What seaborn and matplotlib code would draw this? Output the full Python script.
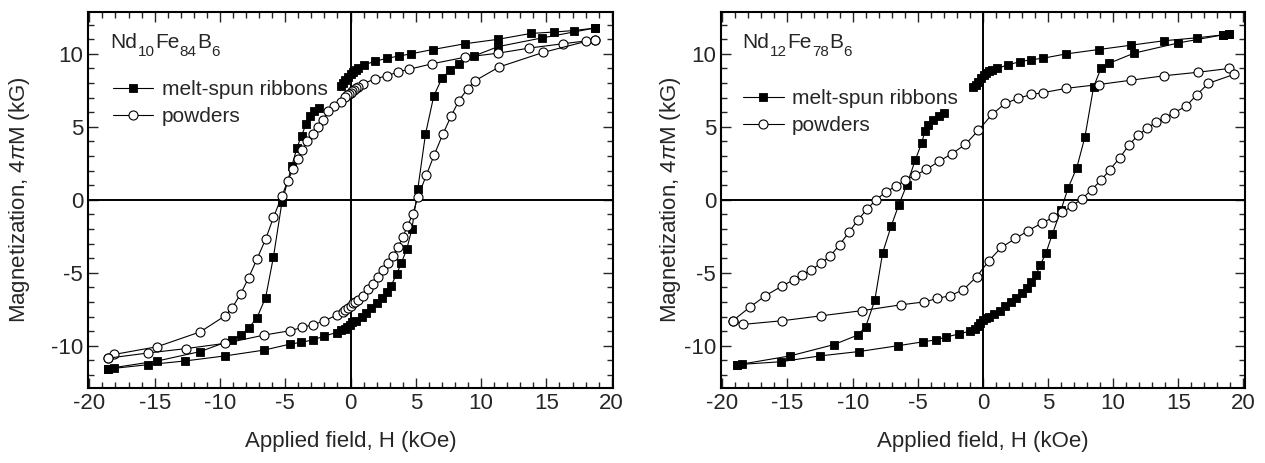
import matplotlib
matplotlib.use("Agg")
import matplotlib.pyplot as plt
import numpy as np
import pandas as pd
import seaborn as sns
from matplotlib.lines import Line2D
from matplotlib.ticker import MultipleLocator

# --- data (H in kOe, 4piM in kG) ------------------------------------------
# Nd10Fe84B6, melt-spun ribbons
rib10_desc_hi_H = [18.7, 17.1, 15.6, 13.8, 11.3, 8.8, 6.3, 4.6, 3.7, 2.8, 1.9, 1.0,
                   0.6, 0.4, 0.2, 0.0, -0.2, -0.4, -0.6, -0.75]
rib10_desc_hi_M = [11.77, 11.6, 11.5, 11.4, 11.0, 10.7, 10.3, 10.0, 9.85, 9.7, 9.5, 9.24,
                   9.05, 8.9, 8.75, 8.6, 8.4, 8.2, 8.0, 7.8]
rib10_desc_lo_H = [-2.4, -2.8, -3.1, -3.4, -3.75, -4.1, -4.5, -5.25, -5.9, -6.5, -7.16,
                   -7.8, -8.4, -9.06, -11.5, -14.8, -18.1, -18.6]
rib10_desc_lo_M = [6.3, 6.1, 5.75, 5.2, 4.4, 3.57, 2.3, -0.15, -3.9, -6.7, -8.07,
                   -8.8, -9.27, -9.6, -10.4, -11.05, -11.5, -11.6]
rib10_asc_H = [-18.6, -15.5, -12.7, -9.6, -6.6, -4.67, -3.8, -2.84, -2.03, -1.07, -0.7,
               -0.45, -0.25, -0.05, 0.15, 0.4, 0.84, 1.2, 1.6, 2.0, 2.4, 2.8, 3.1, 3.55,
               3.9, 4.3, 4.7, 5.15, 5.74, 6.37, 7.0, 7.64, 8.27, 9.47, 11.3, 14.7, 18.7]
rib10_asc_M = [-11.6, -11.3, -11.05, -10.7, -10.3, -9.9, -9.77, -9.6, -9.34, -9.1, -8.95,
               -8.85, -8.7, -8.55, -8.4, -8.3, -8.0, -7.75, -7.45, -7.1, -6.7, -6.3, -5.9,
               -5.07, -4.3, -3.4, -2.0, 0.73, 4.5, 7.1, 8.34, 8.9, 9.3, 9.86, 10.5, 11.1,
               11.77]

# Nd10Fe84B6, powders
pow10_desc_H = [18.7, 16.3, 13.7, 11.3, 8.76, 6.24, 4.5, 3.65, 2.8, 1.9, 0.96, 0.6, 0.45,
                0.3, 0.15, 0.0, -0.15, -0.3, -0.45, -0.7, -1.3, -1.7, -2.1, -2.5, -2.9,
                -3.3, -3.7, -4.0, -4.4, -4.8, -5.25, -5.9, -6.5, -7.16, -7.8, -8.4,
                -9.06, -9.6, -11.5, -14.8, -18.1, -18.6]
pow10_desc_M = [10.96, 10.7, 10.4, 10.05, 9.77, 9.32, 8.95, 8.77, 8.5, 8.3, 7.95, 7.75,
                7.65, 7.55, 7.45, 7.35, 7.25, 7.15, 7.05, 6.7, 6.4, 6.07, 5.5, 5.0, 4.5,
                4.0, 3.4, 2.77, 2.1, 1.3, 0.27, -1.2, -2.7, -4.05, -5.34, -6.43,
                -7.4, -7.95, -9.05, -10.07, -10.6, -10.86]
pow10_asc_H = [-18.6, -15.5, -12.6, -9.6, -6.6, -4.67, -3.7, -2.84, -2.0, -1.07, -0.6,
               -0.4, -0.2, 0.0, 0.2, 0.35, 0.58, 0.96, 1.35, 1.73, 2.1, 2.5, 2.87, 3.25,
               3.63, 4.0, 4.34, 4.77, 5.15, 5.8, 6.42, 7.06, 7.7, 8.3, 8.96, 9.54,
               11.37, 14.75, 18.0, 18.7]
pow10_asc_M = [-10.86, -10.5, -10.2, -9.84, -9.27, -8.98, -8.75, -8.55, -8.3, -7.9, -7.7,
               -7.55, -7.4, -7.25, -7.1, -7.0, -6.85, -6.6, -6.14, -5.75, -5.3, -4.84,
               -4.34, -3.82, -3.25, -2.57, -1.82, -0.98, 0.16, 1.68, 3.1, 4.48, 5.73,
               6.8, 7.6, 8.16, 9.1, 10.1, 10.85, 10.96]

# Nd12Fe78B6, melt-spun ribbons
rib12_desc_hi_H = [18.9, 18.4, 16.4, 13.9, 11.4, 8.9, 6.4, 4.6, 3.7, 2.85, 1.9, 1.08,
                   0.7, 0.45, 0.25, 0.05, -0.15, -0.35, -0.55, -0.75]
rib12_desc_hi_M = [11.35, 11.3, 11.1, 10.9, 10.6, 10.3, 10.0, 9.7, 9.6, 9.47, 9.24, 9.0,
                   8.9, 8.8, 8.7, 8.55, 8.35, 8.1, 7.9, 7.75]
rib12_desc_lo_H = [-3.0, -3.4, -3.85, -4.2, -4.45, -4.7, -5.2, -5.84, -6.47, -7.04, -7.7,
                   -8.3, -9.0, -9.6, -11.45, -14.8, -18.5, -18.9]
rib12_desc_lo_M = [5.95, 5.75, 5.5, 5.1, 4.7, 3.9, 2.7, 1.03, -0.38, -1.8, -3.65,
                   -6.9, -8.7, -9.27, -9.93, -10.7, -11.26, -11.3]
rib12_asc_H = [-18.9, -15.5, -12.5, -9.5, -6.5, -4.56, -3.6, -2.8, -1.85, -1.0, -0.6,
               -0.4, -0.2, 0.0, 0.2, 0.43, 0.85, 1.28, 1.7, 2.14, 2.56, 3.0, 3.36, 3.7,
               4.07, 4.4, 4.84, 5.33, 6.0, 6.55, 7.2, 7.83, 8.5, 9.06, 9.7, 11.6, 15.0,
               18.4, 18.9]
rib12_asc_M = [-11.3, -11.1, -10.7, -10.4, -10.0, -9.73, -9.6, -9.4, -9.2, -9.0, -8.85,
               -8.65, -8.45, -8.25, -8.1, -8.0, -7.83, -7.6, -7.3, -7.03, -6.74, -6.4,
               -6.07, -5.62, -5.16, -4.47, -3.65, -2.35, -0.68, 0.83, 2.18, 4.3, 7.75,
               9.0, 9.36, 10.05, 10.75, 11.3, 11.35]

# Nd12Fe78B6, powders
pow12_desc_H = [18.9, 16.5, 13.9, 11.4, 8.9, 6.4, 4.6, 3.7, 2.7, 1.7, 0.7, -0.34, -1.34,
                -2.36, -3.36, -4.33, -5.2, -5.98, -6.7, -7.46, -8.2, -8.9, -9.6, -10.3,
                -11.0, -11.7, -12.45, -13.16, -13.9, -14.5, -15.4, -16.7, -17.9, -19.2]
pow12_desc_M = [9.0, 8.74, 8.5, 8.2, 7.9, 7.64, 7.34, 7.22, 6.95, 6.6, 5.85, 4.77, 3.8,
                3.17, 2.64, 2.09, 1.67, 1.33, 0.92, 0.53, 0.0, -0.64, -1.4, -2.24,
                -3.08, -3.84, -4.36, -4.8, -5.14, -5.48, -5.9, -6.58, -7.37, -8.29]
pow12_asc_H = [-19.2, -18.4, -15.4, -12.4, -9.3, -6.3, -4.5, -3.5, -2.5, -1.5, -0.48,
               0.46, 1.42, 2.5, 3.48, 4.5, 5.4, 6.1, 6.84, 7.6, 8.35, 9.06, 9.74, 10.5,
               11.2, 11.9, 12.6, 13.25, 13.96, 14.67, 15.6, 16.4, 17.3, 19.3]
pow12_asc_M = [-8.29, -8.54, -8.29, -7.95, -7.6, -7.2, -7.0, -6.76, -6.57, -6.16, -5.27,
               -4.18, -3.26, -2.65, -2.12, -1.6, -1.21, -0.87, -0.41, 0.05, 0.7, 1.33,
               2.06, 2.87, 3.74, 4.43, 4.89, 5.3, 5.62, 5.96, 6.42, 7.18, 7.98, 8.6]

# composition labels as (text, is_subscript) pieces
TITLE_10 = [("Nd", False), ("10", True), ("Fe", False), ("84", True), ("B", False), ("6", True)]
TITLE_12 = [("Nd", False), ("12", True), ("Fe", False), ("78", True), ("B", False), ("6", True)]
LABELS = ["melt-spun ribbons", "powders"]


def segments_frame(segs):
    return pd.concat(
        [pd.DataFrame({"H": h, "M": m, "seg": i}) for i, (h, m) in enumerate(segs)],
        ignore_index=True,
    )


RIB_STYLE = dict(marker="s", markersize=5.8, markerfacecolor="black",
                 markeredgecolor="black", markeredgewidth=0.6)
POW_STYLE = dict(marker="o", markersize=6.5, markerfacecolor="white",
                 markeredgecolor="black", markeredgewidth=0.8)


def chem_label(ax, x, y, parts, size=15, sub_size=11, drop=4.9):
    prev = ax.text(x, y, parts[0][0], transform=ax.transAxes, fontsize=size,
                   va="bottom", ha="left")
    for text, is_sub in parts[1:]:
        prev = ax.annotate(text, xy=(1, 0), xycoords=prev,
                           xytext=(0.3, -drop if is_sub else drop),
                           textcoords="offset points",
                           fontsize=sub_size if is_sub else size,
                           va="bottom", ha="left")


def draw_panel(ax, rib_segs, pow_segs, title, title_x, legend_x, legend_y, ylabel_x):
    ax.axhline(0, color="black", lw=1.4, zorder=1)
    ax.axvline(0, color="black", lw=1.4, zorder=1)
    for segs, style in [(rib_segs, RIB_STYLE), (pow_segs, POW_STYLE)]:
        sns.lineplot(data=segments_frame(segs), x="H", y="M", units="seg",
                     estimator=None, sort=False, color="black", lw=0.8,
                     legend=False, ax=ax, **style)

    ax.set_xlim(-20.1, 20.1)
    ax.set_ylim(-12.9, 12.9)
    ax.xaxis.set_major_locator(MultipleLocator(5))
    ax.xaxis.set_minor_locator(MultipleLocator(1))
    ax.yaxis.set_major_locator(MultipleLocator(5))
    ax.yaxis.set_minor_locator(MultipleLocator(1))
    ax.tick_params(which="both", direction="in", top=True, right=True,
                   labelsize=16, width=1)
    ax.tick_params(which="major", length=7)
    ax.tick_params(which="minor", length=4)
    for sp in ax.spines.values():
        sp.set_linewidth(1.5)
        sp.set_color("black")
    ax.set_xlabel("Applied field, H (kOe)", fontsize=16, labelpad=12)
    ax.set_ylabel(r"Magnetization, 4$\pi$M (kG)", fontsize=16)
    ax.yaxis.set_label_coords(ylabel_x, 0.5)
    chem_label(ax, title_x, 0.892, title)

    handles = [Line2D([], [], color="black", lw=0.8, **RIB_STYLE),
               Line2D([], [], color="black", lw=0.8, **POW_STYLE)]
    ax.legend(handles, LABELS, loc="center left", bbox_to_anchor=(legend_x, legend_y),
              frameon=False, fontsize=15, handlelength=1.95, handletextpad=0.4,
              labelspacing=0.38, borderpad=0, borderaxespad=0)


def main():
    sns.set_theme(style="ticks")
    plt.rcParams["font.family"] = ["Liberation Sans", "DejaVu Sans"]
    plt.rcParams["mathtext.fontset"] = "custom"
    plt.rcParams["mathtext.rm"] = "Liberation Sans"
    plt.rcParams["mathtext.it"] = "Liberation Sans:italic"
    plt.rcParams["axes.unicode_minus"] = False

    fig = plt.figure(figsize=(12.65, 4.63), dpi=100)
    ax1 = fig.add_axes([0.0696, 0.162, 0.415, 0.813])
    ax2 = fig.add_axes([0.570, 0.162, 0.414, 0.813])

    draw_panel(ax1,
               [(rib10_desc_hi_H, rib10_desc_hi_M), (rib10_desc_lo_H, rib10_desc_lo_M),
                (rib10_asc_H, rib10_asc_M)],
               [(pow10_desc_H, pow10_desc_M), (pow10_asc_H, pow10_asc_M)],
               TITLE_10, 0.042, 0.047, 0.756, -0.107)
    draw_panel(ax2,
               [(rib12_desc_hi_H, rib12_desc_hi_M), (rib12_desc_lo_H, rib12_desc_lo_M),
                (rib12_asc_H, rib12_asc_M)],
               [(pow12_desc_H, pow12_desc_M), (pow12_asc_H, pow12_asc_M)],
               TITLE_12, 0.041, 0.042, 0.732, -0.073)

    fig.savefig("out.png", dpi=100)


if __name__ == "__main__":
    main()
